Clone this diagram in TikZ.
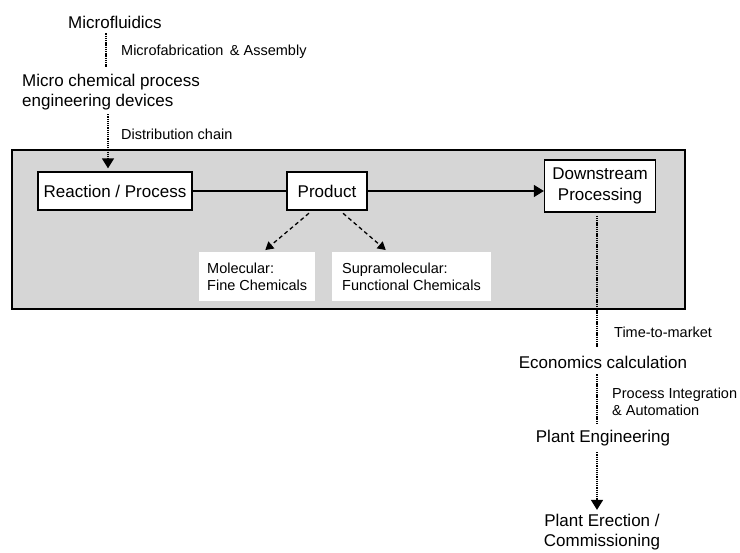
\documentclass[tikz,border=0pt]{standalone}
\usepackage{fontspec}
\setmainfont{Liberation Sans}
\usetikzlibrary{arrows.meta}

\tikzset{
  bigtext/.style={font=\fontsize{17}{20}\selectfont, inner sep=1pt},
  smalltext/.style={font=\fontsize{14.5}{17}\selectfont, inner sep=1pt, anchor=west, align=left},
  stepbox/.style={draw, line width=1.3pt, fill=white, inner sep=0pt, align=center,
    font=\fontsize{17}{21}\selectfont},
  whitebox/.style={fill=white, inner xsep=8pt, inner ysep=0pt, minimum height=49,
    anchor=north west, align=left, font=\fontsize{14.5}{17}\selectfont},
  dotline/.style={dash pattern=on 1.3pt off 0.9pt, line width=1.5pt},
  dashline/.style={dash pattern=on 4pt off 3pt, line width=1.3pt},
  tip/.style={-{Triangle[width=12pt,length=10pt]}},
}

\begin{document}
\begin{tikzpicture}[x=1pt,y=1pt,yscale=-1,xscale=1]
    \useasboundingbox (0,0) rectangle (740,553);
    %Shape: shaded stage
    \draw [line width=1.3pt, fill=black!16] (12,150) rectangle (685,309);
    % Text Node
    \node [bigtext] (mf) at (115,22) {Microfluidics};
    \node [bigtext, anchor=west, align=left] (mcped) at (21,92) {Micro chemical process\\engineering devices};
    \node [smalltext] (mfab) at (120,52) {Microfabrication \,\& Assembly};
    \node [smalltext] (dist) at (120,134) {Distribution chain};
    % Boxes
    \node [stepbox, minimum width=154, minimum height=38] (reaction) at (115,191) {Reaction / Process};
    \node [stepbox, minimum width=80, minimum height=38] (product) at (327,191) {Product};
    \node [stepbox, minimum width=111, minimum height=52] (down) at (600,186) {Downstream\\Processing};
    \node [whitebox] (molec) at (199,252) {Molecular:\\Fine Chemicals};
    \node [whitebox, inner xsep=10pt] (supra) at (332,252) {Supramolecular:\\Functional Chemicals};
    % Right column
    \node [bigtext] (econ) at (603,362) {Economics calculation};
    \node [bigtext] (plant) at (603,438) {Plant Engineering};
    \node [bigtext, align=center] (erect) at (602,532) {Plant Erection /\\Commissioning};
    \node [smalltext] (ttm) at (613,332) {Time-to-market};
    \node [smalltext] (pia) at (611,402) {Process Integration\\\& Automation};
    % Coordinates for vertical lines
    \coordinate (xa) at (106,0);
    \coordinate (xb) at (108,0);
    \coordinate (xc) at (597,0);
    %Straight Lines
    \draw [dotline, shorten <=4pt, shorten >=6pt] (mf.south -| xa) -- (mcped.north -| xa);
    \draw [dotline, tip, shorten <=3pt, shorten >=3pt] (mcped.south -| xb) -- (reaction.north -| xb);
    \draw [line width=1.5pt] (reaction.east) -- (product.west);
    \draw [line width=1.5pt, tip] (product.east) -- (product.east -| down.west);
    \draw [dashline, -{Triangle[width=9pt,length=8pt]}, shorten <=4pt, shorten >=3pt]
      ([xshift=-15pt]product.south) -- ([xshift=64pt]molec.north west);
    \draw [dashline, -{Triangle[width=9pt,length=8pt]}, shorten <=4pt, shorten >=3pt]
      ([xshift=13pt]product.south) -- ([xshift=56pt]supra.north west);
    \draw [dotline, shorten <=3pt, shorten >=7pt] (down.south -| xc) -- (econ.north -| xc);
    \draw [dotline, shorten <=5pt, shorten >=5pt] (econ.south -| xc) -- (plant.north -| xc);
    \draw [dotline, tip, shorten <=5pt, shorten >=3pt] (plant.south -| xc) -- (erect.north -| xc);
\end{tikzpicture}
\end{document}
